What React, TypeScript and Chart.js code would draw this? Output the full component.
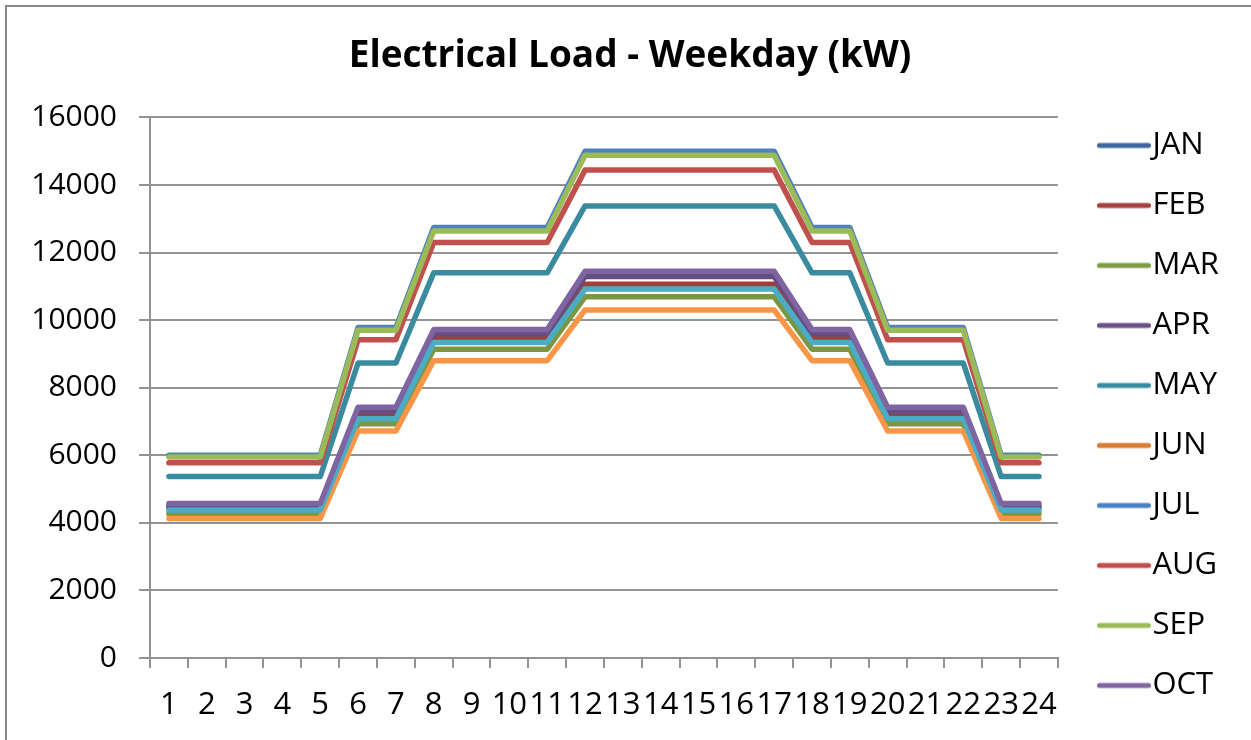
import React, { useEffect, useRef } from 'react';
import { Chart, registerables } from 'chart.js';

Chart.register(...registerables);

// ---- data ----
const hours = ['1','2','3','4','5','6','7','8','9','10','11','12','13','14','15','16','17','18','19','20','21','22','23','24'];
const months = ['JAN','FEB','MAR','APR','MAY','JUN','JUL','AUG','SEP','OCT'];
const yTicks = [0, 2000, 4000, 6000, 8000, 10000, 12000, 14000, 16000];

const jan = [6000,6000,6000,6000,6000,9780,9780,12740,12740,12740,12740,15000,15000,15000,15000,15000,15000,12740,12740,9780,9780,9780,6000,6000];
const feb = [4450,4450,4450,4450,4450,7200,7200,9480,9480,9480,9480,11060,11060,11060,11060,11060,11060,9480,9480,7200,7200,7200,4450,4450];
const mar = [4270,4270,4270,4270,4270,6930,6930,9140,9140,9140,9140,10690,10690,10690,10690,10690,10690,9140,9140,6930,6930,6930,4270,4270];
const apr = [4510,4510,4510,4510,4510,7290,7290,9600,9600,9600,9600,11290,11290,11290,11290,11290,11290,9600,9600,7290,7290,7290,4510,4510];
const may = [5370,5370,5370,5370,5370,8730,8730,11400,11400,11400,11400,13380,13380,13380,13380,13380,13380,11400,11400,8730,8730,8730,5370,5370];
const jun = [4130,4130,4130,4130,4130,6720,6720,8800,8800,8800,8800,10300,10300,10300,10300,10300,10300,8800,8800,6720,6720,6720,4130,4130];
const jul = [4380,4380,4380,4380,4380,7080,7080,9340,9340,9340,9340,10920,10920,10920,10920,10920,10920,9340,9340,7080,7080,7080,4380,4380];
const aug = [5780,5780,5780,5780,5780,9420,9420,12300,12300,12300,12300,14440,14440,14440,14440,14440,14440,12300,12300,9420,9420,9420,5780,5780];
const sep = [5950,5950,5950,5950,5950,9700,9700,12640,12640,12640,12640,14880,14880,14880,14880,14880,14880,12640,12640,9700,9700,9700,5950,5950];
const oct = [4570,4570,4570,4570,4570,7420,7420,9720,9720,9720,9720,11450,11450,11450,11450,11450,11450,9720,9720,7420,7420,7420,4570,4570];

const seriesValues = [jan, feb, mar, apr, may, jun, jul, aug, sep, oct];

// ---- styles ----
const lineColors = ['#4F81BD','#A0403D','#7A963E','#644E80','#3A8BA0','#F79646','#4BACC6','#C0504D','#9BBB59','#8064A2'];
const legendColors = ['#3C68A0','#A5403D','#7F9E43','#695085','#378DA3','#D97B30','#4A80C4','#C24D4A','#9BBB59','#8064A2'];

const FONT = "'Open Sans', 'Liberation Sans', sans-serif";
const GRID = '#939393';

function makeLegendLine(color: string): HTMLCanvasElement {
  const c = document.createElement('canvas');
  c.width = 78;
  c.height = 8;
  const g = c.getContext('2d')!;
  g.strokeStyle = color;
  g.lineWidth = 5;
  g.lineCap = 'round';
  g.beginPath();
  g.moveTo(26.5, 4);
  g.lineTo(75.5, 4);
  g.stroke();
  return c;
}

export default function App() {
  const ref = useRef<HTMLCanvasElement | null>(null);

  useEffect(() => {
    document.body.style.margin = '0';
    const canvas = ref.current!;
    const datasets = months.map((m, i) => ({
      label: m,
      data: seriesValues[i],
      borderColor: lineColors[i],
      backgroundColor: lineColors[i],
      borderWidth: 5.5,
      borderJoinStyle: 'round' as const,
      borderCapStyle: 'round' as const,
      pointRadius: 0,
      pointHoverRadius: 0,
      pointStyle: makeLegendLine(legendColors[i]),
      tension: 0,
      fill: false,
      order: months.length - i,
    }));

    const chart = new Chart(canvas, {
      type: 'line',
      data: { labels: hours, datasets },
      options: {
        animation: false,
        responsive: false,
        events: [],
        layout: { padding: { left: 31, right: 22, top: 0, bottom: 0 } },
        plugins: {
          tooltip: { enabled: false },
          title: {
            display: true,
            text: 'Electrical Load - Weekday (kW)',
            color: '#000',
            font: { family: FONT, size: 37, weight: 'bold', lineHeight: 1.2 },
            padding: { top: 34, bottom: 39 },
          },
          legend: {
            position: 'right',
            align: 'center',
            title: {
              display: true,
              text: ' ',
              font: { family: FONT, size: 10, lineHeight: 1.2 },
              padding: { top: 0, bottom: 79 },
            },
            labels: {
              usePointStyle: true,
              pointStyleWidth: 50,
              padding: 29,
              color: '#000',
              font: { family: FONT, size: 31 },
              sort: (a: any, b: any) => a.datasetIndex - b.datasetIndex,
            },
          },
        },
        scales: {
          x: {
            type: 'category',
            offset: true,
            grid: {
              offset: true,
              drawOnChartArea: false,
              drawTicks: true,
              tickLength: 10,
              color: GRID,
              lineWidth: 2,
            },
            border: { display: true, color: GRID, width: 2 },
            ticks: {
              autoSkip: false,
              maxRotation: 0,
              minRotation: 0,
              padding: 19,
              color: '#000',
              font: { family: FONT, size: 31 },
            },
            afterFit: (s: any) => { s.height = 82; },
          },
          y: {
            min: 0,
            max: 16000,
            afterBuildTicks: (s: any) => { s.ticks = yTicks.map((v) => ({ value: v })); },
            grid: {
              drawTicks: true,
              tickLength: 11,
              color: GRID,
              lineWidth: 2,
            },
            border: { display: true, color: GRID, width: 2 },
            ticks: {
              padding: 22,
              color: '#000',
              font: { family: FONT, size: 30 },
              callback: (v: any) => String(v),
            },
            afterFit: (s: any) => { s.width = 119; },
          },
        },
      },
    });
    return () => chart.destroy();
  }, []);

  return (
    <div style={{ position: 'relative', width: 1251, height: 740, overflow: 'hidden', background: '#fff' }}>
      <canvas ref={ref} width={1251} height={740} style={{ position: 'absolute', left: 0, top: 0, display: 'block' }} />
      <div style={{ position: 'absolute', left: 5, top: 5, width: 1400, height: 900, borderLeft: '2px solid #8a8a8a', borderTop: '2px solid #8a8a8a', pointerEvents: 'none' }} />
    </div>
  );
}
